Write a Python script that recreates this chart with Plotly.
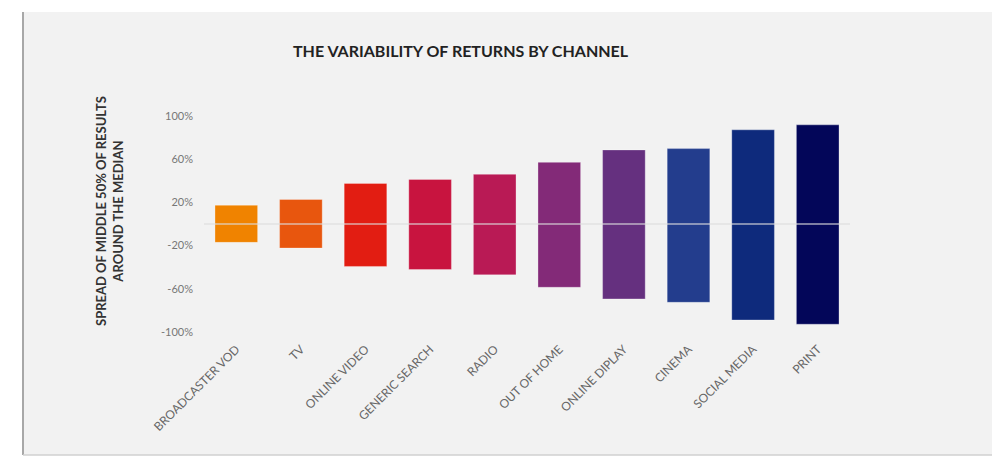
import plotly.graph_objects as go

channels = ["BROADCASTER VOD", "TV", "ONLINE VIDEO", "GENERIC SEARCH", "RADIO",
            "OUT OF HOME", "ONLINE DIPLAY", "CINEMA", "SOCIAL MEDIA", "PRINT"]
upper = [17.4, 22.7, 37.6, 41.3, 46.0, 57.1, 68.6, 69.8, 87.2, 91.8]
lower = [-17.0, -22.3, -39.3, -42.1, -47.1, -58.6, -69.4, -72.5, -88.9, -92.8]
colors = ["#F08300", "#E8560E", "#E21D12", "#C8143F", "#B91A55",
          "#832A78", "#65307F", "#233D8D", "#0E2A7C", "#030659"]
tick_vals = [-100, -60, -20, 20, 60, 100]
tick_text = ["-100%", "-60%", "-20%", "20%", "60%", "100%"]

W, H = 1002, 456
L, R, T, B = 204, 152, 116, 124
pw, ph = W - L - R, H - T - B

def px(x):
    return (x - L) / pw

def py(y):
    return (H - B - y) / ph

fig = go.Figure()
fig.add_trace(go.Bar(
    x=channels,
    y=[u - l for u, l in zip(upper, lower)],
    base=lower,
    marker=dict(color=colors, line=dict(color="rgba(255,255,255,0.3)", width=1)),
    width=0.66,
    hoverinfo="skip",
))

shapes = [
    dict(type="rect", xref="paper", yref="paper", x0=px(23), x1=px(992), y0=py(455), y1=py(12),
         fillcolor="#f2f2f2", line=dict(width=0), layer="below"),
    dict(type="line", xref="paper", yref="paper", x0=px(23), x1=px(23), y0=py(455), y1=py(12),
         line=dict(color="#a8a8a8", width=2), layer="below"),
    dict(type="line", xref="paper", yref="paper", x0=px(23), x1=px(992), y0=py(455), y1=py(455),
         line=dict(color="#d0d0d0", width=1.5), layer="below"),
    dict(type="line", xref="paper", yref="y", x0=0, x1=1, y0=0, y1=0,
         line=dict(color="rgba(222,222,222,0.75)", width=1.5), layer="above"),
]

annotations = [
    dict(text="<b>THE VARIABILITY OF RETURNS BY CHANNEL</b>", xref="paper", yref="paper",
         x=px(461), y=py(50), xanchor="center", yanchor="middle", showarrow=False,
         font=dict(family="Lato", size=16, color="#222222")),
    dict(text="<b>SPREAD OF MIDDLE 50% OF RESULTS<br>AROUND THE MEDIAN</b>", xref="paper", yref="paper",
         x=px(109), y=py(211), xanchor="center", yanchor="middle", showarrow=False, textangle=-90,
         font=dict(family="Lato", size=13, color="#333333")),
]

fig.update_layout(
    width=W, height=H,
    margin=dict(l=L, r=R, t=T, b=B),
    paper_bgcolor="white",
    plot_bgcolor="rgba(0,0,0,0)",
    showlegend=False,
    shapes=shapes,
    annotations=annotations,
    bargap=0.34,
    xaxis=dict(range=[-0.5, 9.5], showgrid=False, zeroline=False, showline=False,
               tickangle=-45, tickfont=dict(family="Lato", size=12, color="#666666"),
               ticks="", ticklabelstandoff=7),
    yaxis=dict(range=[-100, 100], showgrid=False, zeroline=False, showline=False,
               tickvals=tick_vals, ticktext=tick_text, ticks="",
               tickfont=dict(family="Lato", size=11, color="#777777"), ticklabelstandoff=10),
)

fig.write_html("out.html")
